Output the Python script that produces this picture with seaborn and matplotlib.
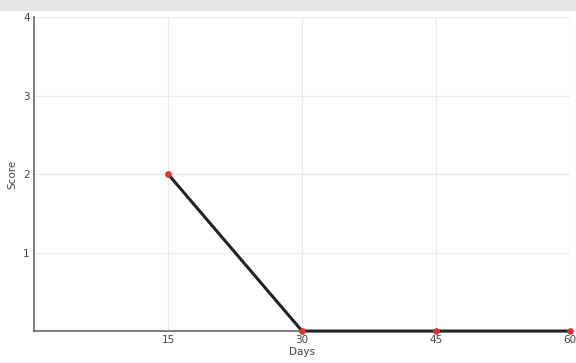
import matplotlib
matplotlib.use("Agg")
import matplotlib.pyplot as plt
import seaborn as sns
import pandas as pd

days = [15, 30, 45, 60]
score = [2, 0, 0, 0]
x_ticks = [15, 30, 45, 60]
y_ticks = [1, 2, 3, 4]

sns.set_style("whitegrid")
plt.rcParams['font.family'] = ['DejaVu Sans']

df = pd.DataFrame({'Days': days, 'Score': score})

fig = plt.figure(figsize=(5.76, 3.63), dpi=100)
# light grey strip at the top of the screenshot
fig.patches.append(plt.Rectangle((0, 0.972), 1, 0.028, transform=fig.transFigure,
                                 color='#e6e6e6', zorder=0))
ax = fig.add_axes([0.059, 0.088, 0.931, 0.865])

sns.lineplot(data=df, x='Days', y='Score', ax=ax, color='#222222', linewidth=2.2,
             marker='o', markersize=4, markerfacecolor='#e03030', markeredgecolor='#e03030',
             clip_on=False, zorder=3)

ax.set_xlim(0, 60)
ax.set_ylim(0, 4)
ax.set_xticks(x_ticks)
ax.set_yticks(y_ticks)
ax.grid(True, color='#ececec', linewidth=0.8)
for s in ['top', 'right']:
    ax.spines[s].set_visible(False)
for s in ['left', 'bottom']:
    ax.spines[s].set_visible(True)
    ax.spines[s].set_color('#666666')
    ax.spines[s].set_linewidth(1.2)
ax.tick_params(axis='both', direction='in', length=3, width=0.8, colors='#666666',
               labelsize=7.5, labelcolor='#444444', pad=3)
ax.set_xlabel('Days', fontsize=7.5, color='#444444', labelpad=1)
ax.set_ylabel('Score', fontsize=7.5, color='#444444', labelpad=4)

fig.savefig('out.png', dpi=100)
